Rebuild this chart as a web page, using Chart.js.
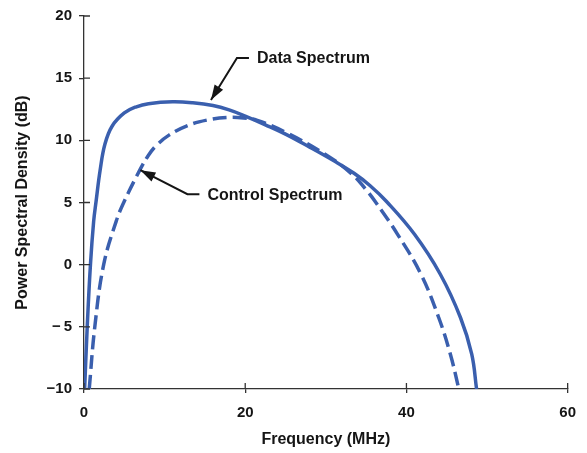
<!DOCTYPE html>
<html>
<head>
<meta charset="utf-8">
<script src="https://cdn.jsdelivr.net/npm/chart.js@4.4.1/dist/chart.umd.min.js"></script>
<style>
  html, body { margin: 0; padding: 0; background: #fff; }
  #wrap { width: 587px; height: 453px; }
</style>
</head>
<body>
<div id="wrap"><canvas id="psd" width="587" height="453"></canvas></div>
<script>
// Data Spectrum (solid)
const dataFreq = [0.08, 0.4, 0.8, 1.2, 1.5, 2.0, 2.6, 3.5, 5.0, 6.5, 8.0, 11.0, 13.5, 16.0, 18.0, 20.0, 22.5, 25.0, 28.0, 31.0, 33.5, 35.5, 37.5, 41.0, 44.2, 46.7, 48.1, 48.7];
const dataPsd  = [-10, -5, 0, 3.5, 5.1, 7.6, 9.7, 11.15, 12.2, 12.7, 12.95, 13.1, 13.02, 12.8, 12.45, 11.95, 11.25, 10.5, 9.45, 8.35, 7.35, 6.35, 5.1, 2.44, -0.77, -4.25, -7.2, -10];

// Control Spectrum (dashed)
const controlFreq = [0.65, 1.34, 2.44, 4.0, 5.0, 7.0, 8.0, 9.0, 10.5, 12.9, 15.4, 17.8, 19.8, 21.5, 25.0, 30.0, 33.3, 34.9, 36.1, 38.9, 41.8, 44.0, 45.45, 46.5];
const controlPsd  = [-10, -5, 0, 3.5, 5.1, 7.7, 8.8, 9.6, 10.4, 11.2, 11.65, 11.85, 11.8, 11.6, 10.65, 8.85, 7.25, 6.1, 5.1, 2.44, -0.77, -4.25, -7.2, -10];

const xTicks = [0, 20, 40, 60];
const yTicks = [-10, -5, 0, 5, 10, 15, 20];

const seriesNames = ['Data Spectrum', 'Control Spectrum'];

const FONT = "'Liberation Sans', Arial, sans-serif";
const INK = '#151515';
const AXIS = '#333';
const BLUE = '#3a5fae';

const toPoints = (xs, ys) => xs.map((x, i) => ({ x, y: ys[i] }));

// tick marks poke into the plot area too, and the two callout arrows
const extrasPlugin = {
  id: 'extras',
  afterDraw(chart) {
    const { ctx, chartArea, scales: { x, y } } = chart;
    ctx.save();
    ctx.strokeStyle = AXIS;
    ctx.lineWidth = 1.3;
    ctx.beginPath();
    xTicks.forEach((v) => {
      const px = x.getPixelForValue(v);
      ctx.moveTo(px, chartArea.bottom);
      ctx.lineTo(px, chartArea.bottom - 6);
    });
    yTicks.forEach((v) => {
      const py = y.getPixelForValue(v);
      ctx.moveTo(chartArea.left, py);
      ctx.lineTo(chartArea.left + 6, py);
    });
    ctx.stroke();

    // callouts
    const callout = (tipX, tipY, elbowDx, elbowDy, label) => {
      const tx = x.getPixelForValue(tipX);
      const ty = y.getPixelForValue(tipY);
      const ex = tx + elbowDx;
      const ey = ty + elbowDy;
      ctx.strokeStyle = INK;
      ctx.fillStyle = INK;
      ctx.lineWidth = 2;
      ctx.beginPath();
      ctx.moveTo(ex + 12, ey);
      ctx.lineTo(ex, ey);
      ctx.lineTo(tx, ty);
      ctx.stroke();
      // arrow head
      const ang = Math.atan2(ty - ey, tx - ex);
      const len = 15, half = 5;
      ctx.beginPath();
      ctx.moveTo(tx, ty);
      ctx.lineTo(tx - len * Math.cos(ang) + half * Math.sin(ang), ty - len * Math.sin(ang) - half * Math.cos(ang));
      ctx.lineTo(tx - len * Math.cos(ang) - half * Math.sin(ang), ty - len * Math.sin(ang) + half * Math.cos(ang));
      ctx.closePath();
      ctx.fill();
      ctx.font = 'bold 16px ' + FONT;
      ctx.textAlign = 'left';
      ctx.textBaseline = 'middle';
      ctx.fillText(label, ex + 20, ey + 1);
    };
    callout(15.75, 13.25, 26, -42, seriesNames[0]);
    callout(7.0, 7.6, 47, 24, seriesNames[1]);
    ctx.restore();
  }
};

new Chart(document.getElementById('psd'), {
  type: 'scatter',
  data: {
    datasets: [
      {
        label: seriesNames[0],
        data: toPoints(dataFreq, dataPsd),
        showLine: true,
        borderColor: BLUE,
        borderWidth: 3.5,
        pointRadius: 0,
        tension: 0.4,
        borderCapStyle: 'butt'
      },
      {
        label: seriesNames[1],
        data: toPoints(controlFreq, controlPsd),
        showLine: true,
        borderColor: BLUE,
        borderWidth: 3.5,
        borderDash: [14, 6],
        pointRadius: 0,
        tension: 0.4,
        borderCapStyle: 'butt'
      }
    ]
  },
  options: {
    responsive: false,
    animation: false,
    layout: { padding: { left: 0, top: 15, right: 11, bottom: 0 } },
    plugins: { legend: { display: false }, tooltip: { enabled: false } },
    scales: {
      x: {
        type: 'linear',
        min: 0,
        max: 60,
        afterBuildTicks: (s) => { s.ticks = xTicks.map((v) => ({ value: v })); },
        afterFit: (s) => { s.height = 64; },
        grid: { drawOnChartArea: false, tickLength: 4, color: AXIS, lineWidth: 1.3 },
        border: { color: AXIS, width: 1.3 },
        ticks: { color: INK, padding: 11, font: { family: FONT, size: 15, weight: 'bold' }, maxRotation: 0 },
        title: { display: true, text: 'Frequency (MHz)', color: INK, padding: { top: 0, bottom: 4 }, font: { family: FONT, size: 16, weight: 'bold' } }
      },
      y: {
        type: 'linear',
        min: -10,
        max: 20,
        afterBuildTicks: (s) => { s.ticks = yTicks.map((v) => ({ value: v })); },
        afterFit: (s) => { s.width = 84; },
        grid: { drawOnChartArea: false, tickLength: 5, color: AXIS, lineWidth: 1.3 },
        border: { color: AXIS, width: 1.3 },
        ticks: {
          color: INK,
          padding: 7,
          font: { family: FONT, size: 15, weight: 'bold' },
          callback: (v) => (v < 0 ? '\u2212' + (v > -10 ? '\u2009' : '') + Math.abs(v) : String(v))
        },
        title: { display: true, text: 'Power Spectral Density (dB)', color: INK, padding: { top: 13, bottom: 0 }, font: { family: FONT, size: 16, weight: 'bold' } }
      }
    }
  },
  plugins: [extrasPlugin]
});
</script>
</body>
</html>
